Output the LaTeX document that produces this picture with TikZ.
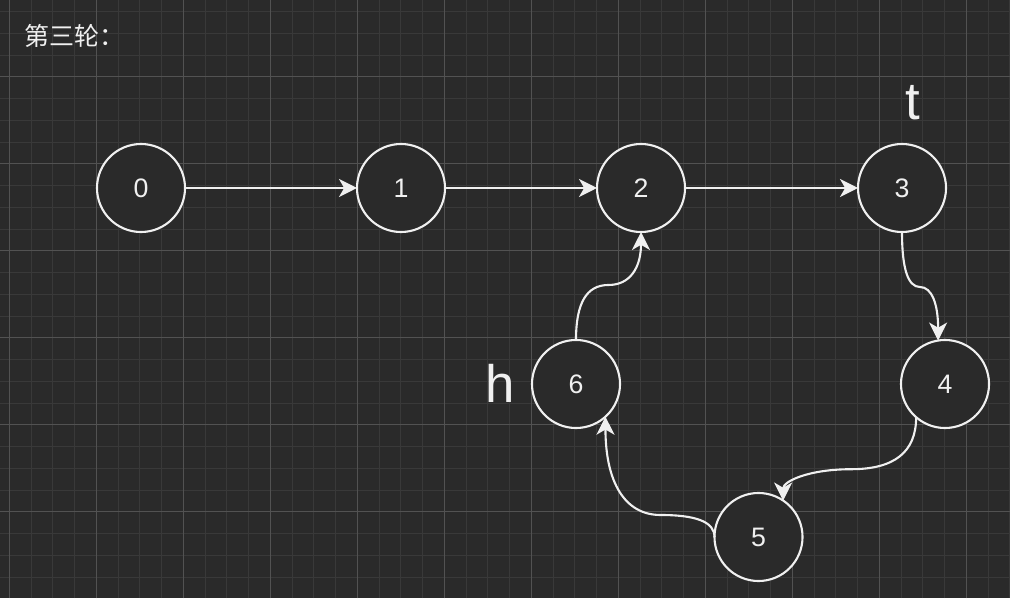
\documentclass[tikz,border=0pt]{standalone}
\usepackage{fontspec}
\setmainfont{Liberation Sans}
\newfontfamily\cjk{Noto Sans CJK SC}
\usetikzlibrary{arrows.meta,positioning}
\definecolor{fond}{HTML}{2A2A2A}
\definecolor{grille}{HTML}{393939}
\definecolor{grilleForte}{HTML}{525252}
\definecolor{trait}{HTML}{F0F0F0}

\begin{document}
\begin{tikzpicture}[x=0.025cm,y=0.025cm,
    sommet/.style={circle,draw=trait,fill=fond,line width=1.5pt,minimum size=2.2cm,inner sep=0pt,outer sep=0pt,text=trait,font=\fontsize{19pt}{21pt}\selectfont},
    fleche/.style={draw=trait,line width=1.5pt,-{Stealth[length=4.5mm,width=4.5mm,inset=1.3mm]}},
    marque/.style={text=trait,inner sep=0pt,anchor=base,font=\fontsize{37.5pt}{40pt}\selectfont}]
        % Le fond
        \fill[fond] (0,0) rectangle (1010,598);
        \useasboundingbox (0,0) rectangle (1010,598);

        % La grille
        \foreach \i in {0,...,46} \draw[grille,line width=0.7pt] ({9.3+21.75*\i},0) -- ++(0,598);
        \foreach \j in {0,...,26} \draw[grille,line width=0.7pt] (0,{586.3-21.75*\j}) -- ++(1010,0);
        \foreach \i in {0,...,11} \draw[grilleForte,line width=0.7pt] ({9.3+87*\i},0) -- ++(0,598);
        \foreach \j in {0,...,5} \draw[grilleForte,line width=0.7pt] (0,{521.05-87*\j}) -- ++(1010,0);

        % Titre
        \node[anchor=west,text=trait,inner sep=0pt,font=\cjk\fontsize{17.8pt}{20pt}\selectfont] (titre) at (24,562) {第三轮：};

        % Les sommets
        \node[sommet] (n0) at (141,410) {0};
        \node[sommet] (n1) at (401,410) {1};
        \node[sommet] (n2) at (641,410) {2};
        \node[sommet] (n3) at (902,410) {3};
        \node[sommet] (n4) at (945,214) {4};
        \node[sommet] (n5) at (758.5,61) {5};
        \node[sommet] (n6) at (576,214) {6};

        % Les marques h et t
        \node[marque] (t) at (913,478) {t};
        \node[marque] (h) at (500,195) {h};

        % Les aretes
        \draw[fleche] (n0) -- (n1);
        \draw[fleche] (n1) -- (n2);
        \draw[fleche] (n2) -- (n3);
        \draw[fleche] (n3.south) .. controls +(0,-37) and +(-12,0) .. ++(18,-55) .. controls +(12,0) and +(0,36) .. (n4.99);
        \draw[fleche] (n4.229) .. controls +(0,-35) and +(43,0) .. ++(-65,-52) .. controls +(-43,0) and +(0,19) .. (n5.56);
        \draw[fleche] (n5.west) .. controls +(0,15) and +(36,0) .. ++(-54,22) .. controls +(-36,0) and +(0,-65) .. (n6.-48);
        \draw[fleche] (n6.north) .. controls +(0,37) and +(-22,0) .. ++(32.5,55) .. controls +(22,0) and +(0,-35) .. (n2.south);
    \end{tikzpicture}
\end{document}
